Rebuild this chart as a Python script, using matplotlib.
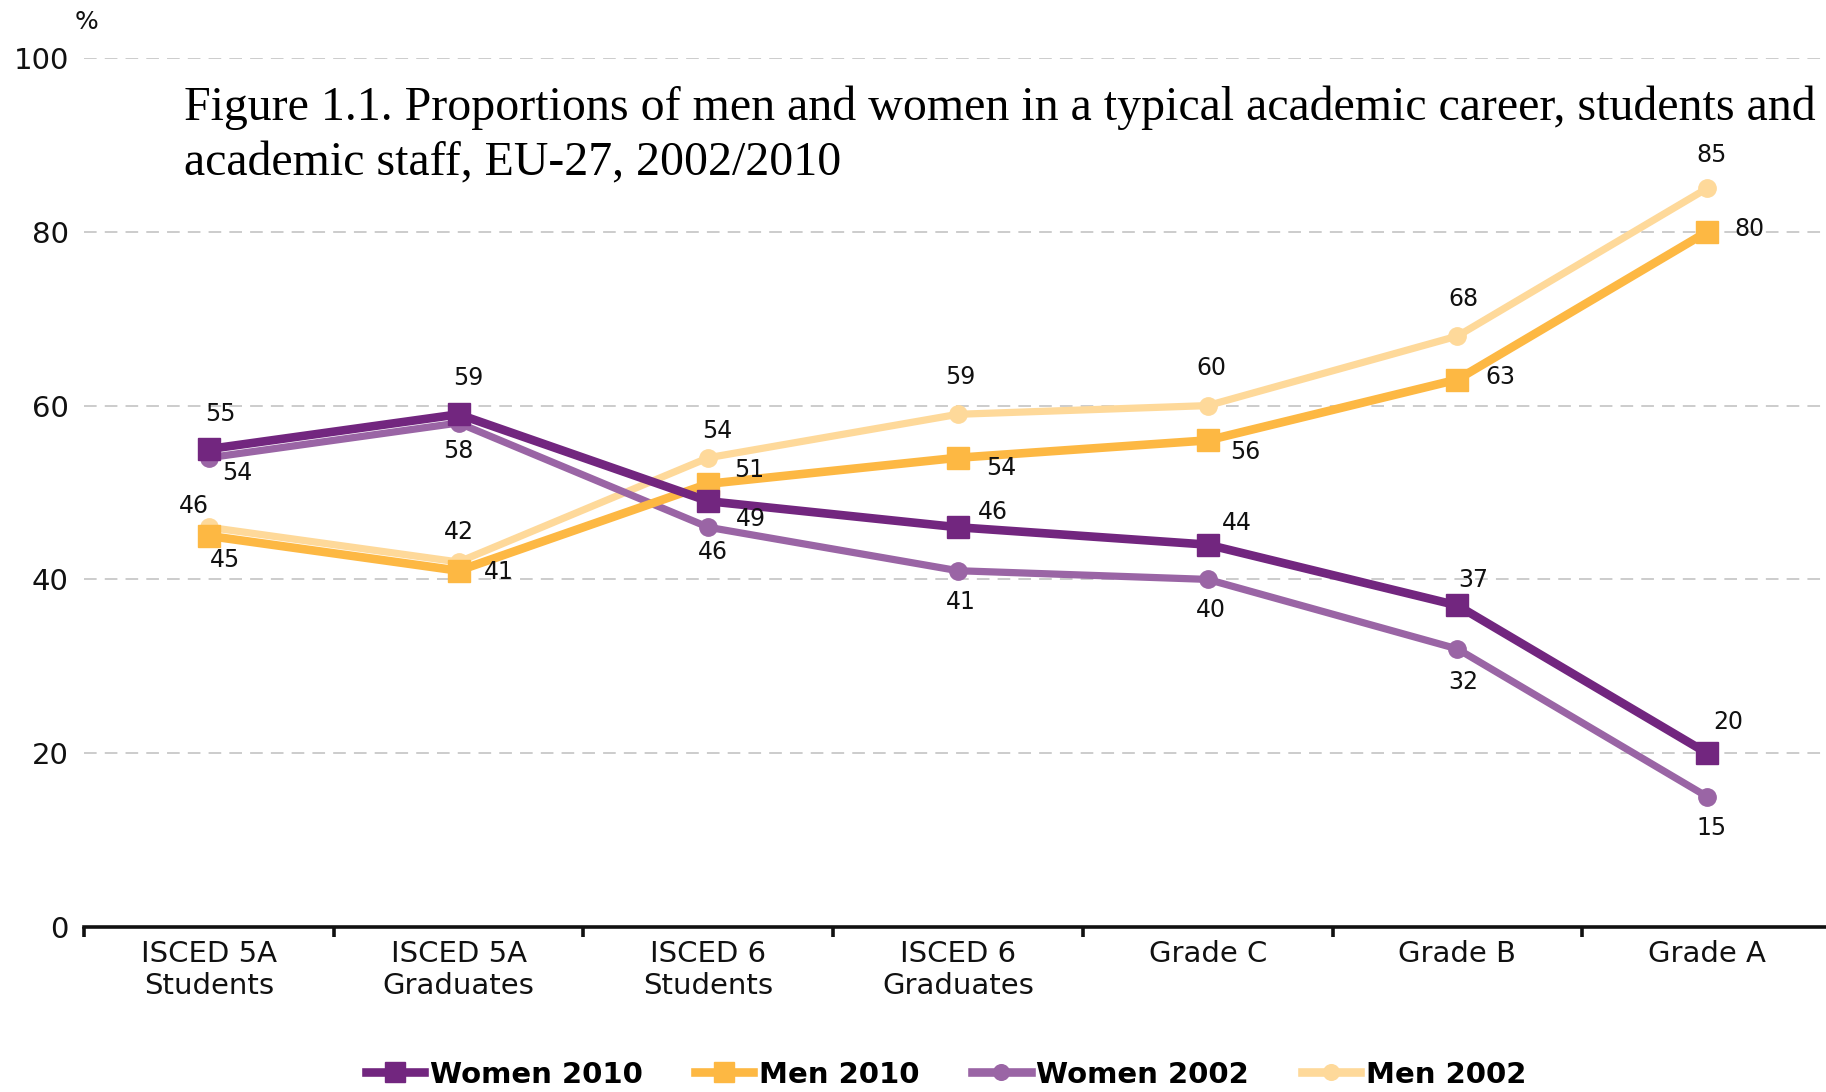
import matplotlib
matplotlib.use("Agg")
import matplotlib.pyplot as plt
from matplotlib.ticker import FixedLocator

categories = ["ISCED 5A\nStudents", "ISCED 5A\nGraduates", "ISCED 6\nStudents",
              "ISCED 6\nGraduates", "Grade C", "Grade B", "Grade A"]
women_2010 = [55, 59, 49, 46, 44, 37, 20]
men_2010 = [45, 41, 51, 54, 56, 63, 80]
women_2002 = [54, 58, 46, 41, 40, 32, 15]
men_2002 = [46, 42, 54, 59, 60, 68, 85]
yticks = [0, 20, 40, 60, 80, 100]

title_lines = ["Figure 1.1. Proportions of men and women in a typical academic career, students and",
               "academic staff, EU-27, 2002/2010"]

# label offsets (points) relative to each marker
k = 0.838
off_w10 = [(10, 30), (8, 31), (37, -15), (30, 13), (25, 19), (14, 22), (18, 27)]
off_m10 = [(14, -21), (35, -1), (35, 12), (37, -9), (32, -10), (37, 2), (36, 2)]
off_w02 = [(24, -13), (0, -24), (4, -21), (2, -27), (3, -26), (5, -28), (4, -27)]
off_m02 = [(-13, 18), (0, 26), (8, 23), (2, 32), (3, 32), (5, 32), (4, 29)]

c_w10 = "#72267f"
c_m10 = "#fdb843"
c_w02 = "#9a65a5"
c_m02 = "#fed99a"

W, H = 1826, 1092
fig = plt.figure(figsize=(W / 100, H / 100), dpi=100)
ax = fig.add_axes([84 / W, 1 - 927 / H, (1832 - 84) / W, (927 - 58) / H])
ax.set_xlim(-0.5, 6.5)
ax.set_ylim(0, 100)

x = list(range(len(categories)))

series = [
    ("Men 2002", men_2002, c_m02, "o", 12.5, 5.2, off_m02),
    ("Women 2002", women_2002, c_w02, "o", 12.5, 5.2, off_w02),
    ("Men 2010", men_2010, c_m10, "s", 15.5, 6.2, off_m10),
    ("Women 2010", women_2010, c_w10, "s", 15.5, 6.2, off_w10),
]
handles = {}
for name, vals, col, mk, ms, lw, offs in series:
    h, = ax.plot(x, vals, color=col, marker=mk, markersize=ms, linewidth=lw,
                 label=name, solid_joinstyle="round", clip_on=False, zorder=3)
    handles[name] = h
    for xi, v, (dx, dy) in zip(x, vals, offs):
        ax.annotate(str(v), (xi, v), xytext=(dx * k, dy * k), textcoords="offset points",
                    ha="center", va="center", fontsize=17, family="DejaVu Sans",
                    color="#111111", zorder=4)

for s in ["top", "right", "left"]:
    ax.spines[s].set_visible(False)
ax.spines["bottom"].set_linewidth(2.6)
ax.spines["bottom"].set_color("#111111")

ax.set_yticks(yticks)
ax.set_yticklabels([str(t) for t in yticks], fontsize=21, family="DejaVu Sans", color="#111111")
ax.tick_params(axis="y", length=0, pad=11)
ax.yaxis.grid(True, color="#c8c8c8", linewidth=1.3, linestyle=(0, (7, 4.5)))
ax.set_axisbelow(True)

ax.set_xticks(x)
ax.set_xticklabels(categories, fontsize=21, family="DejaVu Sans", color="#111111",
                   linespacing=1.22)
ax.tick_params(axis="x", which="major", length=0, pad=9)
ax.xaxis.set_minor_locator(FixedLocator([i - 0.5 for i in range(len(categories) + 1)]))
ax.tick_params(axis="x", which="minor", length=7, width=2.6, color="#111111", direction="out")

fig.text(75 / W, 1 - 22 / H, "%", fontsize=18, family="DejaVu Sans", color="#111111",
         ha="left", va="center")

for i, line in enumerate(title_lines):
    fig.text(184 / W, 1 - (86 + 55 * i) / H, line, fontsize=34.5, family="Liberation Serif",
             color="black", ha="left", va="top")

order = ["Women 2010", "Men 2010", "Women 2002", "Men 2002"]
leg = fig.legend([handles[n] for n in order], order, loc="center",
                 bbox_to_anchor=(0.518, 0.016), ncol=4, frameon=False,
                 handlelength=2.0, handletextpad=0.2, columnspacing=1.8,
                 prop={"family": "DejaVu Sans", "weight": "bold", "size": 21},
                 markerscale=0.9)
for h in leg.legend_handles:
    h.set_linewidth(6.2)

fig.savefig("out.png", dpi=100)
